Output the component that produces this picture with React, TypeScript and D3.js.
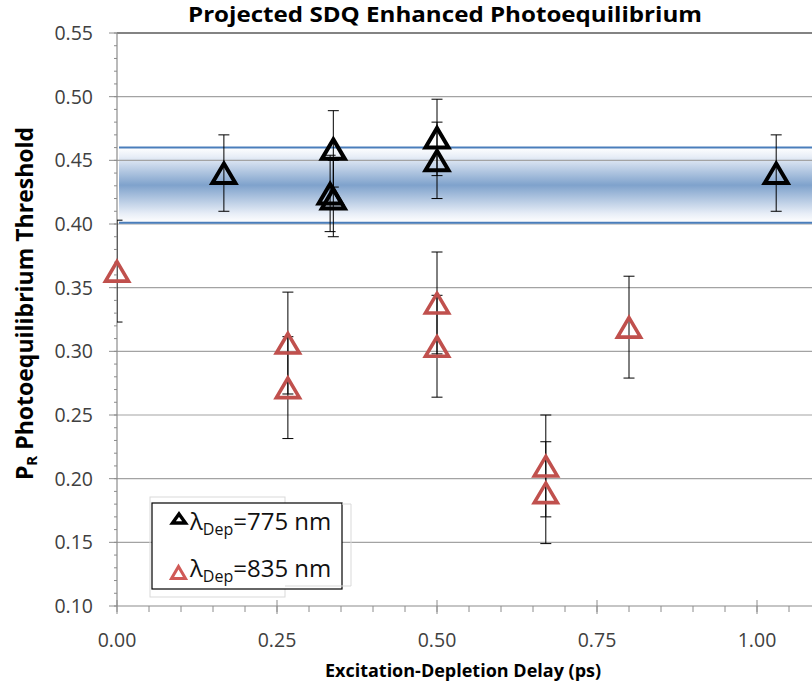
import React from "react";
import * as d3 from "d3";

// ---- data ----
const blackX = [0.167, 0.338, 0.333, 0.338, 0.5, 0.5, 1.03];
const blackY = [0.44, 0.459, 0.424, 0.42, 0.468, 0.45, 0.44];
const blackErr = [0.03, 0.03, 0.03, 0.03, 0.03, 0.03, 0.03];

const redX = [0.0, 0.267, 0.267, 0.5, 0.5, 0.67, 0.67, 0.8];
const redY = [0.363, 0.3065, 0.2715, 0.338, 0.304, 0.21, 0.189, 0.319];
const redErr = [0.04, 0.04, 0.04, 0.04, 0.04, 0.04, 0.04, 0.04];

const bandLow = 0.401;
const bandHigh = 0.46;

const xTicks = [0, 0.25, 0.5, 0.75, 1.0];
const yTicks = [0.1, 0.15, 0.2, 0.25, 0.3, 0.35, 0.4, 0.45, 0.5, 0.55];

const title = "Projected SDQ Enhanced Photoequilibrium";
const xTitle = "Excitation-Depletion Delay (ps)";
const legendLabels = ["=775 nm", "=835 nm"];

const W = 812;
const H = 696;
const FONT = "'Open Sans', sans-serif";

export default function App() {
  const x = d3.scaleLinear().domain([0, 1]).range([117, 757]);
  const y = d3.scaleLinear().domain([0.1, 0.55]).range([606, 33]);
  const x0 = x(0);
  const xR = W + 5;

  const minorY = d3.range(10, 56).map((v) => v / 100);
  const minorX = d3.range(0, 22).map((v) => v * 0.05);

  const tri = (cx: number, cy: number, hw: number, top: number, bot: number) =>
    `M${cx},${cy - top}L${cx + hw},${cy + bot}L${cx - hw},${cy + bot}Z`;

  const errBar = (px: number, v: number, e: number, key: string) => {
    const yt = y(v + e);
    const yb = y(v - e);
    return (
      <g key={key} stroke="#000" strokeWidth={1}>
        <line x1={px} x2={px} y1={yt} y2={yb} />
        <line x1={px - 5.5} x2={px + 5.5} y1={yt} y2={yt} />
        <line x1={px - 5.5} x2={px + 5.5} y1={yb} y2={yb} />
      </g>
    );
  };

  return (
    <div style={{ position: "fixed", left: 0, top: 0 }}>
      <svg width={W} height={H} style={{ display: "block", background: "#fff" }}>
        <defs>
          <linearGradient id="bandGrad" x1="0" y1="0" x2="0" y2="1">
            <stop offset="0" stopColor="#ffffff" />
            <stop offset="0.12" stopColor="#e8eef7" />
            <stop offset="0.5" stopColor="#7fa2cc" />
            <stop offset="0.88" stopColor="#e8eef7" />
            <stop offset="1" stopColor="#ffffff" />
          </linearGradient>
          <clipPath id="plotClip">
            <rect x={x0} y={0} width={W} height={610} />
          </clipPath>
        </defs>
        <rect width={W} height={H} fill="#fff" />

        {/* band */}
        <rect
          x={x0 + 2}
          y={y(bandHigh)}
          width={xR - x0}
          height={y(bandLow) - y(bandHigh)}
          fill="url(#bandGrad)"
        />

        {/* gridlines */}
        {yTicks.map((t) => (
          <line
            key={"g" + t}
            x1={x0}
            x2={xR}
            y1={y(t)}
            y2={y(t)}
            stroke={t === 0.55 ? "#5a5a5a" : t === 0.1 ? "#8c8c8c" : "#a3a3a3"}
            strokeWidth={t === 0.55 ? 1.5 : 1.2}
          />
        ))}

        <line x1={x0 + 2} x2={xR} y1={y(bandHigh)} y2={y(bandHigh)} stroke="#4a7ebb" strokeWidth={2} />
        <line x1={x0 + 2} x2={xR} y1={y(bandLow)} y2={y(bandLow)} stroke="#4a7ebb" strokeWidth={2} />

        {/* y axis */}
        <line x1={x0} x2={x0} y1={y(0.55)} y2={y(0.1)} stroke="#8c8c8c" strokeWidth={1.2} />
        {minorY.map((t) => (
          <line key={"my" + t} x1={x0 - 3} x2={x0} y1={y(t)} y2={y(t)} stroke="#8c8c8c" strokeWidth={1} />
        ))}
        {yTicks.map((t) => (
          <g key={"yt" + t}>
            <line x1={x0 - 8} x2={x0} y1={y(t)} y2={y(t)} stroke="#8c8c8c" strokeWidth={1} />
            <text
              x={93}
              y={y(t)}
              dy="0.36em"
              textAnchor="end"
              fontFamily={FONT}
              fontSize={19.5}
              fill="#404040"
            >
              {d3.format(".2f")(t)}
            </text>
          </g>
        ))}

        {/* x axis ticks */}
        {minorX.map((t) => (
          <line key={"mx" + t} x1={x(t)} x2={x(t)} y1={y(0.1)} y2={y(0.1) + 6} stroke="#8c8c8c" strokeWidth={1} />
        ))}
        {xTicks.map((t) => (
          <g key={"xt" + t}>
            <line x1={x(t)} x2={x(t)} y1={y(0.1) - 6} y2={y(0.1) + 8} stroke="#8c8c8c" strokeWidth={1} />
            <text x={x(t)} y={647} textAnchor="middle" fontFamily={FONT} fontSize={19.5} fill="#404040">
              {d3.format(".2f")(t)}
            </text>
          </g>
        ))}

        {/* error bars (clipped at the axis) */}
        <g clipPath="url(#plotClip)">
          {redX.map((v, i) => errBar(x(v), redY[i], redErr[i], "re" + i))}
          {blackX.map((v, i) => errBar(x(v), blackY[i], blackErr[i], "be" + i))}
        </g>
        {/* markers */}
        {redX.map((v, i) => (
          <path
            key={"rp" + i}
            d={tri(x(v), y(redY[i]), 11.5, 9.5, 10)}
            fill="none"
            stroke="#c0504d"
            strokeWidth={3.6}
            strokeLinejoin="miter"
          />
        ))}
        {blackX.map((v, i) => (
          <path
            key={"bp" + i}
            d={tri(x(v), y(blackY[i]), 11.5, 9.5, 10)}
            fill="none"
            stroke="#000"
            strokeWidth={4}
            strokeLinejoin="miter"
          />
        ))}

        {/* legend */}
        <rect x={150} y={497} width={135} height={100} fill="none" stroke="#d9d9d9" strokeWidth={1} />
        <rect x={152} y={503} width={190} height={86} fill="#fff" stroke="#000" strokeWidth={1.2} />
        <path d="M342,504L351,504L351,586L285,586" fill="none" stroke="#d9d9d9" strokeWidth={1} />
        <path d={tri(179, 518.5, 6.5, 4.5, 4.5)} fill="none" stroke="#000" strokeWidth={3.4} strokeLinejoin="miter" />
        <path d={tri(178.5, 572.5, 7, 6, 6)} fill="none" stroke="#d05a57" strokeWidth={3} strokeLinejoin="miter" />
        {legendLabels.map((lab, i) => (
          <text key={"lg" + i} x={190} y={530 + i * 47} fontFamily={FONT} fontSize={24} fill="#111">
            λ
            <tspan fontSize={16} dy={5}>
              Dep
            </tspan>
            <tspan dy={-5}>{lab}</tspan>
          </text>
        ))}

        {/* titles */}
        <text
          x={445}
          y={22}
          textAnchor="middle"
          fontFamily={FONT}
          fontWeight="bold"
          fontSize={20.5}
          textLength={514}
          lengthAdjust="spacingAndGlyphs"
          fill="#000"
        >
          {title}
        </text>
        <text x={463} y={677} textAnchor="middle" fontFamily={FONT} fontWeight="bold" fontSize={18} fill="#000">
          {xTitle}
        </text>
        <text
          transform={`translate(33,303.5) rotate(-90)`}
          textAnchor="middle"
          fontFamily={FONT}
          fontWeight="bold"
          fontSize={23}
          fill="#000"
        >
          P
          <tspan fontSize={15} dy={4}>
            R
          </tspan>
          <tspan dy={-4}> Photoequilibrium Threshold</tspan>
        </text>
      </svg>
    </div>
  );
}
